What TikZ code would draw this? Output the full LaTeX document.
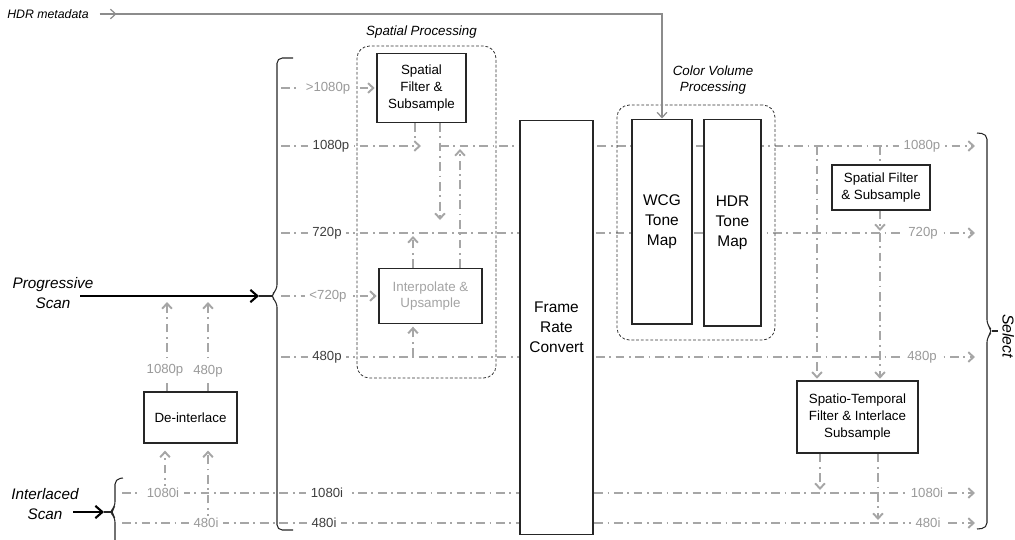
\documentclass[tikz,border=0pt]{standalone}
\usepackage{fontspec}
\setmainfont{Liberation Sans}
\usetikzlibrary{arrows.meta,decorations.markings,positioning,backgrounds}
\definecolor{sigline}{HTML}{A6A6A6}
\definecolor{faint}{HTML}{9A9A9A}
\definecolor{dark}{HTML}{3F3F3F}
\definecolor{metaline}{HTML}{8C8C8C}

\begin{document}
\begin{tikzpicture}[
			x=0.02cm, y=-0.02cm,
			arr/.style={-{Straight Barb[length=3pt,width=5.5pt]}},
			sig/.style={draw=sigline, line width=1.1pt, dash pattern=on 5pt off 2.6pt on 1pt off 2.6pt},
			box/.style={rectangle, draw=black!85, fill=white, line width=0.6pt, align=center, inner sep=0pt, font=\fontsize{7.6}{9.5}\selectfont},
			tall/.style={box, font=\fontsize{8.8}{11.3}\selectfont},
			group/.style={rectangle, draw=black!80, line width=0.45pt, dash pattern=on 1.6pt off 1.1pt, rounded corners=7pt, inner sep=0pt},
			grouplabel/.style={align=center, font=\fontsize{7.6}{9.6}\selectfont\itshape},
			lab/.style={fill=white, inner xsep=2.5pt, inner ysep=1pt, font=\fontsize{7.5}{9}\selectfont, text=dark},
			fainttext/.style={lab, text=faint},
			scan/.style={draw=black, line width=1.2pt, -{Straight Barb[length=4pt,width=7pt]}},
			bracket/.style={draw=black!85, line width=0.6pt, rounded corners=3pt},
			scanlabel/.style={align=center, font=\fontsize{8.7}{11.3}\selectfont\itshape}
			]
			\useasboundingbox (0,0) rectangle (1015,539);
			
			% Row levels and line ends
			\coordinate (yA) at (0,88);
			\coordinate (yB) at (0,146);
			\coordinate (yC) at (0,233);
			\coordinate (yD) at (0,296);
			\coordinate (yE) at (0,357);
			\coordinate (yF) at (0,493);
			\coordinate (yG) at (0,523);
			\coordinate (Lx) at (281,0);
			\coordinate (Rx) at (975,0);
			\coordinate (Ix) at (122,0);
			
			% Processing groups
			\node[group, minimum width=2.78cm, minimum height=6.64cm] (spg) at (426.5,212) {};
			\node[grouplabel] (spgl) at (421.5,32) {Spatial Processing};
			\node[group, minimum width=3.16cm, minimum height=4.7cm] (cvg) at (696,222.5) {};
			\node[grouplabel] (cvgl) at (713,80) {Color Volume\\Processing};
			
			% Blocks
			\node[box, minimum width=1.78cm, minimum height=1.38cm] (sfl) at (421.5,88) {Spatial\\Filter \&\\Subsample};
			\node[box, minimum width=2.06cm, minimum height=1.1cm, text=faint!90] (ipl) at (430.5,296) {Interpolate \&\\Upsample};
			\node[tall, minimum width=1.46cm, minimum height=8.3cm] (frc) at (556.5,327.5) {Frame\\Rate\\Convert};
			\node[tall, minimum width=1.2cm, minimum height=4.1cm] (wcg) at (662,221.5) {WCG\\Tone\\Map};
			\node[tall, minimum width=1.14cm, minimum height=4.14cm] (hdr) at (732.5,222.5) {HDR\\Tone\\Map};
			\node[box, minimum width=1.96cm, minimum height=0.9cm] (sfr) at (881,187.5) {Spatial Filter\\\& Subsample};
			\node[box, minimum width=2.42cm, minimum height=1.44cm] (stf) at (857.5,417) {Spatio-Temporal\\Filter \& Interlace\\Subsample};
			\node[box, minimum width=1.86cm, minimum height=1.02cm] (dei) at (190.5,417.5) {De-interlace};
			
			% Free ends of the connectors
			\coordinate (tB) at (421,146);
			\coordinate (tA1) at (415,141);
			\coordinate (tA2) at (440,220);
			\coordinate (tI1) at (460,149);
			\coordinate (tI2) at (413,236);
			\coordinate (tI3) at (413,357);
			\coordinate (tS1) at (817,146);
			\coordinate (tS2) at (880,146);
			\coordinate (tS3) at (880,231);
			\coordinate (tS4) at (880,233);
			\coordinate (tS5) at (820,490);
			\coordinate (tS6) at (878,520);
			\coordinate (tD1) at (167,302);
			\coordinate (tD2) at (208,302);
			\coordinate (tD3) at (165,493);
			\coordinate (tD4) at (208,523);
			
			\begin{scope}[on background layer]
				% Format rows
				\draw[sig, arr, shorten >=1pt] (Lx |- yA) -- (sfl.west);
				\draw[sig, arr] (Lx |- yB) -- (tB);
				\draw[sig, arr] (tA2 |- yB) -- (Rx |- yB);
				\draw[sig, arr] (Lx |- yC) -- (Rx |- yC);
				\draw[sig, arr, shorten >=1pt] (Lx |- yD) -- (ipl.west);
				\draw[sig, arr] (Lx |- yE) -- (Rx |- yE);
				\draw[sig, arr] (Ix |- yF) -- (Rx |- yF);
				\draw[sig, arr] (Ix |- yG) -- (Rx |- yG);
				
				% Spatial processing
				\draw[sig] (tA1 |- sfl.south) -- (tA1);
				\draw[sig, arr] (tA2 |- sfl.south) -- (tA2);
				\draw[sig, arr] (tI1 |- ipl.north) -- (tI1);
				\draw[sig, arr] (tI2 |- ipl.north) -- (tI2);
				\draw[sig, arr, shorten >=1.5pt] (tI3) -- (tI3 |- ipl.south);
				
				% Output side
				\draw[sig, arr, shorten >=1pt] (tS1) -- (tS1 |- stf.north);
				\draw[sig] (tS2) -- (tS2 |- sfr.north);
				\draw[sig, arr] (tS3 |- sfr.south) -- (tS3);
				\draw[sig, arr, shorten >=1pt] (tS4) -- (tS4 |- stf.north);
				\draw[sig, arr] (tS5 |- stf.south) -- (tS5);
				\draw[sig, arr] (tS6 |- stf.south) -- (tS6);
				
				% De-interlacing
				\draw[sig, arr] (tD1 |- dei.north) -- (tD1);
				\draw[sig, arr] (tD2 |- dei.north) -- (tD2);
				\draw[sig, arr, shorten >=4pt] (tD3) -- (tD3 |- dei.south);
				\draw[sig, arr, shorten >=4pt] (tD4) -- (tD4 |- dei.south);
			\end{scope}
			
			% Row labels
			\node[fainttext] (lA) at (328,88) {>1080p};
			\node[lab] (lB) at (331,146) {1080p};
			\node[lab] (lC) at (327,233) {720p};
			\node[fainttext] (lD) at (328,296) {<720p};
			\node[lab] (lE) at (327,357) {480p};
			\node[lab] (lF) at (327,493) {1080i};
			\node[lab] (lG) at (324,523) {480i};
			\node[fainttext] (rB) at (922,146) {1080p};
			\node[fainttext] (rC) at (923,233) {720p};
			\node[fainttext] (rE) at (922,357) {480p};
			\node[fainttext] (rF) at (927,493) {1080i};
			\node[fainttext] (rG) at (928,523) {480i};
			\node[fainttext] (iF) at (163,493) {1080i};
			\node[fainttext] (iG) at (206,523) {480i};
			\node[fainttext] (dB) at (165,370) {1080p};
			\node[fainttext] (dE) at (208,371) {480p};
			
			% Brackets
			\coordinate (lbt) at (259,296);
			\coordinate (sbt) at (104,512);
			\draw[bracket] (293,58) -- (277,58) -- (277,290) -- (270,296) -- (277,302) -- (277,530) -- (293,530);
			\draw[bracket] (272,296) -- (lbt);
			\draw[bracket] (977,133) -- (987,134) -- (987,325) -- (993,331) -- (987,337) -- (987,528) -- (977,529);
			\draw[bracket] (992,331) -- (998,331);
			\draw[bracket] (123,478) -- (115,479) -- (115,507) -- (110,512) -- (115,517) -- (115,550);
			\draw[bracket] (112,512) -- (sbt);
			\node[font=\fontsize{9}{11}\selectfont\itshape, rotate=-90, inner sep=0pt, anchor=base] (sel) at (1002.5,336) {Select};
			
			% Sources
			\node[scanlabel] (prog) at (53,293) {Progressive\\Scan};
			\node[scanlabel] (ilc) at (45,504) {Interlaced\\Scan};
			\coordinate (pgs) at (80,296);
			\coordinate (ils) at (73,512);
			\draw[scan] (pgs) -- (lbt);
			\draw[scan] (ils) -- (sbt);
			
			% Metadata feed
			\node[font=\fontsize{7}{8.5}\selectfont\itshape, inner sep=0pt] (meta) at (48,14) {HDR metadata};
			\draw[draw=metaline, line width=0.7pt, arr, postaction={decorate},
				decoration={markings, mark=at position 0.34cm with {\arrow{Straight Barb[length=3pt,width=5.5pt]}}}]
				([xshift=6pt]meta.east) -| (wcg.north);
			
		\end{tikzpicture}
\end{document}
